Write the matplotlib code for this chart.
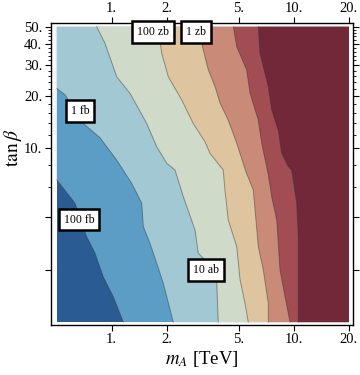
import matplotlib
matplotlib.use("Agg")
import matplotlib.pyplot as plt
from matplotlib.ticker import FixedLocator, NullLocator, FixedFormatter, NullFormatter

plt.rcParams['font.family'] = ['Liberation Serif', 'DejaVu Serif']
plt.rcParams['mathtext.fontset'] = 'stix'

# plot range (mA in TeV, tan beta)
ma_min, ma_max = 0.5, 20.0
tb_min, tb_max = 1.0, 50.0

# contour boundaries, from dark blue (high xsec) to dark red
b1_ma = [0.5, 0.629, 0.729, 0.810, 0.899, 1.02, 1.158]
b1_tb = [6.57, 4.83, 3.10, 2.49, 1.82, 1.40, 1.0]

b2_ma = [0.5, 0.555, 0.698, 0.863, 1.065, 1.183, 1.287, 1.461, 1.491, 1.622, 1.766, 1.919, 2.177]
b2_tb = [22.1, 20.3, 13.9, 11.5, 8.56, 7.21, 6.29, 4.83, 3.54, 2.84, 2.18, 1.67, 1.0]

b3_ma = [0.827, 0.919, 1.065, 1.26, 1.556, 1.766, 2.004, 2.225, 2.47, 2.864, 2.985, 3.59, 3.77, 3.84]
b3_tb = [50.0, 40.2, 25.8, 20.7, 13.9, 10.2, 8.2, 7.5, 5.27, 3.39, 2.49, 2.05, 1.69, 1.0]

b4_ma = [1.80, 1.88, 2.044, 2.42, 2.80, 3.25, 3.46, 4.09, 4.18, 4.36, 4.85, 5.06, 5.39, 5.61]
b4_tb = [50.0, 35.2, 25.8, 19.0, 13.9, 10.9, 9.36, 7.5, 5.76, 3.87, 2.72, 1.75, 1.28, 1.0]

b5_ma = [2.97, 3.18, 3.39, 3.69, 3.93, 4.36, 4.85, 5.45, 5.98, 6.37, 6.79, 7.23, 7.23]
b5_tb = [50.0, 36.8, 28.2, 22.6, 18.2, 14.5, 10.7, 7.31, 5.76, 2.72, 1.99, 1.28, 1.0]

b6_ma = [4.65, 4.85, 5.50, 5.74, 6.37, 6.65, 7.23, 7.54, 8.04, 8.38, 8.93, 9.51]
b6_tb = [50.0, 38.4, 28.2, 20.7, 14.5, 10.7, 7.02, 5.27, 3.87, 1.99, 1.40, 1.0]

b7_ma = [6.37, 6.51, 7.23, 7.55, 8.20, 8.56, 9.30, 9.71, 10.35, 10.56, 10.56]
b7_tb = [50.0, 35.2, 22.6, 16.6, 12.7, 9.36, 7.84, 7.5, 4.83, 3.10, 1.0]

band_colors = ['#2b5b93', '#5b9dc5', '#a1c8d3', '#d0dac8', '#dfc59f',
               '#c98b78', '#a14d53', '#722839']

# contour labels: text, mA, tan beta
label_text = ['100 fb', '1 fb', '10 ab', '100 zb', '1 zb']
label_ma = [0.662, 0.670, 3.29, 1.685, 2.90]
label_tb = [3.89, 16.4, 1.99, 46.6, 46.6]

fig = plt.figure(figsize=(3.6, 3.75), dpi=100)
ax = fig.add_axes([0.1408, 0.1333, 0.8406, 0.8054])
ax.set_xscale('log')
ax.set_yscale('log')

ax.fill([ma_min, ma_max, ma_max, ma_min], [tb_min, tb_min, tb_max, tb_max],
        color=band_colors[0], lw=0)
bounds = [(b1_ma, b1_tb), (b2_ma, b2_tb), (b3_ma, b3_tb), (b4_ma, b4_tb),
          (b5_ma, b5_tb), (b6_ma, b6_tb), (b7_ma, b7_tb)]
for k, (bx, by) in enumerate(bounds):
    px = list(bx) + [ma_max, ma_max, bx[0]]
    py = list(by) + [by[-1], tb_max, tb_max]
    ax.fill(px, py, color=band_colors[k + 1], lw=0)
for bx, by in bounds:
    ax.plot(bx, by, color='#303030', alpha=0.45, lw=0.7)

for t, x, y in zip(label_text, label_ma, label_tb):
    ax.text(x, y, t, ha='center', va='center', fontsize=8.5,
            bbox=dict(boxstyle='square,pad=0.4', fc='white', ec='black', lw=1.8))

ax.set_xlim(0.4627, 21.15)
ax.set_ylim(0.962, 52.6)

xt = [1, 2, 5, 10, 20]
ax.xaxis.set_major_locator(FixedLocator(xt))
ax.xaxis.set_major_formatter(FixedFormatter(['1.', '2.', '5.', '10.', '20.']))
ax.xaxis.set_minor_locator(NullLocator())

yt = [2, 4, 10, 20, 30, 40, 50]
ax.yaxis.set_major_locator(FixedLocator(yt))
ax.yaxis.set_major_formatter(FixedFormatter(['', '', '10.', '20.', '30.', '40.', '50.']))
ax.yaxis.set_minor_locator(FixedLocator([6, 8, 12, 14, 16, 18] + list(range(22, 50, 2))))
ax.yaxis.set_minor_formatter(NullFormatter())

ax.tick_params(which='both', direction='out', top=True, right=True,
               labeltop=True, labelbottom=True, labelsize=10.5, width=0.8, pad=2)
ax.tick_params(which='major', length=4)
ax.tick_params(which='minor', length=2, width=0.6)
for s in ax.spines.values():
    s.set_linewidth(1.0)

ax.set_xlabel(r'$m_A$ [TeV]', fontsize=13.5, labelpad=2)
ax.set_ylabel(r'$\tan\beta$', fontsize=14, va='center')
ax.yaxis.set_label_coords(-0.125, 0.585)

fig.savefig('out.png', dpi=100)
